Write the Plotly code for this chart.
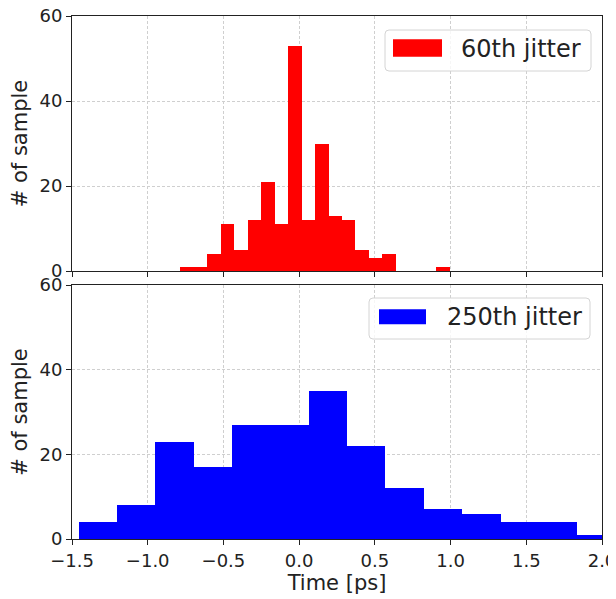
import plotly.graph_objects as go

# ---- data ----
top_edges = [-0.785, -0.696, -0.607, -0.518, -0.429, -0.340, -0.251, -0.162, -0.073,
             0.016, 0.105, 0.194, 0.283, 0.372, 0.461, 0.550, 0.639, 0.728, 0.817,
             0.906, 0.995]
top_counts = [1, 1, 4, 11, 5, 12, 21, 11, 53, 12, 30, 13, 12, 5, 3, 4, 0, 0, 0, 1]

bot_edges = [-1.456, -1.203, -0.949, -0.696, -0.443, -0.189, 0.064, 0.317, 0.570,
             0.824, 1.077, 1.330, 1.584, 1.837, 2.090]
bot_counts = [4, 8, 23, 17, 27, 27, 35, 22, 12, 7, 6, 4, 4, 1]

x_ticks = [-1.5, -1.0, -0.5, 0.0, 0.5, 1.0, 1.5, 2.0]
y_ticks = [0, 20, 40, 60]
labels = ["60th jitter", "250th jitter"]
colors = ["#ff0000", "#0000ff"]

def centers(e):
    return [(a + b) / 2 for a, b in zip(e[:-1], e[1:])]

def widths(e):
    return [b - a for a, b in zip(e[:-1], e[1:])]

FONT = "DejaVu Sans"
fig = go.Figure()
fig.add_trace(go.Bar(x=centers(top_edges), y=top_counts, width=widths(top_edges),
                     marker=dict(color=colors[0], line=dict(width=0)),
                     xaxis="x", yaxis="y", showlegend=False))
fig.add_trace(go.Bar(x=centers(bot_edges), y=bot_counts, width=widths(bot_edges),
                     marker=dict(color=colors[1], line=dict(width=0)),
                     xaxis="x2", yaxis="y2", showlegend=False))

# page body adds an 8px offset; compensate so the plot lands where the reference has it
OFF = 8
WIN_W, WIN_H = 616, 599
W, H = WIN_W - OFF, WIN_H - OFF
L, R, T, B = 72 - OFF, 14, 16 - OFF, 60
pw, ph = W - L - R, H - T - B

def px(xp):  # window pixel x -> paper
    return (xp - OFF - L) / pw

def py(yp):  # window pixel y -> paper
    return (H - B - (yp - OFF)) / ph

top_dom = [py(271), 1.0]
bot_dom = [0.0, py(285)]

axis_common = dict(showline=True, mirror=True, linecolor="#222222", linewidth=1,
                   ticks="outside", ticklen=5, tickwidth=1, tickcolor="#222222",
                   showgrid=True, gridcolor="#cfcfcf", griddash="3px,2px", gridwidth=0.8,
                   zeroline=False, automargin=False, ticklabeloverflow="allow",
                   tickfont=dict(family=FONT, size=18, color="#222222"))

fig.update_layout(
    width=W, height=H,
    margin=dict(l=L, r=R, t=T, b=B),
    plot_bgcolor="white", paper_bgcolor="white",
    bargap=0,
    font=dict(family=FONT, color="#222222"),
    xaxis=dict(range=[-1.5, 2.0], tickvals=x_ticks, showticklabels=False,
               anchor="y", **axis_common),
    yaxis=dict(range=[0, 60], tickvals=y_ticks, domain=top_dom, anchor="x",
               title=dict(text="# of sample", font=dict(family=FONT, size=21), standoff=8),
               **axis_common),
    xaxis2=dict(range=[-1.5, 2.0], tickvals=x_ticks, tickformat=".1f", anchor="y2",
                title=dict(text="Time [ps]", font=dict(family=FONT, size=21), standoff=4),
                **axis_common),
    yaxis2=dict(range=[0, 60], tickvals=y_ticks, domain=bot_dom, anchor="x2",
                title=dict(text="# of sample", font=dict(family=FONT, size=21), standoff=8),
                **axis_common),
)

def rounded_box(x0, x1, y0, y1, r=4):
    # x/y in window pixels; returns an SVG path in paper coords
    rx, ry = r / pw, r / ph
    X0, X1 = px(x0), px(x1)
    Yt, Yb = py(y0), py(y1)
    return (f"M {X0+rx},{Yt} L {X1-rx},{Yt} Q {X1},{Yt} {X1},{Yt-ry} "
            f"L {X1},{Yb+ry} Q {X1},{Yb} {X1-rx},{Yb} "
            f"L {X0+rx},{Yb} Q {X0},{Yb} {X0},{Yb+ry} "
            f"L {X0},{Yt-ry} Q {X0},{Yt} {X0+rx},{Yt} Z")

# manual legends (matplotlib-style)
legs = [
    dict(box=(385, 591, 30, 71), patch=(393, 442, 39.3, 56.7), tx=459, ty=48.5),
    dict(box=(369, 590, 298, 339), patch=(379, 426, 309.3, 324.3), tx=445, ty=316.7),
]
for lg, lab, col in zip(legs, labels, colors):
    x0, x1, y0, y1 = lg["box"]
    fig.add_shape(type="path", xref="paper", yref="paper",
                  path=rounded_box(x0, x1, y0, y1),
                  line=dict(color="#d4d4d4", width=1), fillcolor="rgba(255,255,255,0.8)")
    a0, a1, b0, b1 = lg["patch"]
    fig.add_shape(type="rect", xref="paper", yref="paper",
                  x0=px(a0), x1=px(a1), y0=py(b1), y1=py(b0),
                  line=dict(width=0), fillcolor=col)
    fig.add_annotation(xref="paper", yref="paper", x=px(lg["tx"]), y=py(lg["ty"]),
                       text=lab, showarrow=False, xanchor="left", yanchor="middle",
                       font=dict(family=FONT, size=24, color="#222222"))

fig.write_html("out.html")
